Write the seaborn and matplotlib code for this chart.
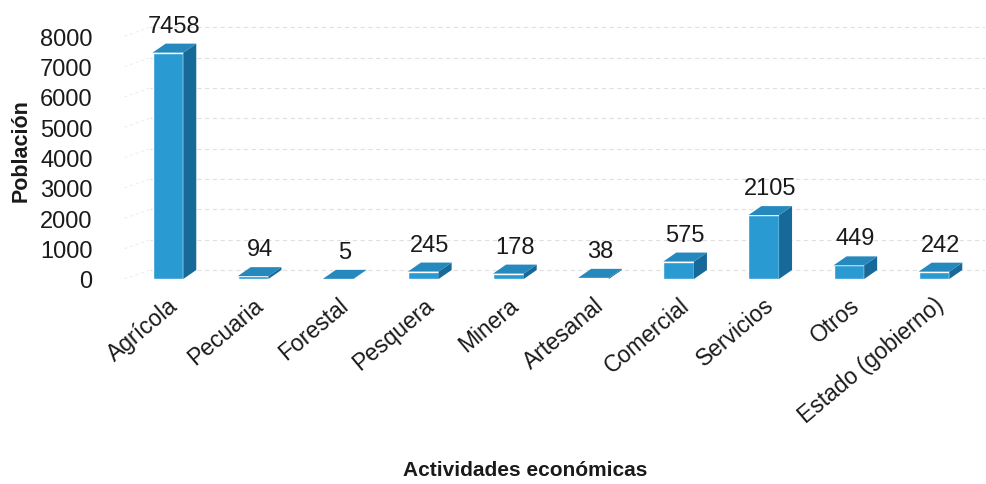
import matplotlib
matplotlib.use("Agg")
import matplotlib.pyplot as plt
from matplotlib.patches import Polygon
import seaborn as sns
import pandas as pd

categorias = ["Agrícola", "Pecuaria", "Forestal", "Pesquera", "Minera",
              "Artesanal", "Comercial", "Servicios", "Otros", "Estado (gobierno)"]
poblacion = [7458, 94, 5, 245, 178, 38, 575, 2105, 449, 242]
yticks = [0, 1000, 2000, 3000, 4000, 5000, 6000, 7000, 8000]

df = pd.DataFrame({"actividad": categorias, "poblacion": poblacion})

sns.set_theme(style="white")
plt.rcParams["font.family"] = ["Liberation Sans", "DejaVu Sans"]

W, H = 986, 485
fig = plt.figure(figsize=(W / 100, H / 100), dpi=100)
ax = fig.add_axes([0.122, 1 - 280 / H, 0.877, (280 - 22) / H])

front = "#2A9AD2"
side = "#17699A"
top = "#2689BE"
ink = "#1a1a1a"

bar_w = 0.36
sns.barplot(data=df, x="actividad", y="poblacion", color=front,
            width=bar_w, saturation=1, ax=ax, zorder=3)

xlim = (-0.56, 9.6)
ylim = (0, 8500)
ax.set_xlim(*xlim)
ax.set_ylim(*ylim)

# depth of the pseudo-3D bars, expressed in pixels then converted to data units
ax_w_px = 0.877 * W
ax_h_px = (280 - 22)
dx = 13 * (xlim[1] - xlim[0]) / ax_w_px
dy = 9 * (ylim[1] - ylim[0]) / ax_h_px

# faint back-wall gridlines
for t in yticks:
    ax.plot([xlim[0] + 0.35, xlim[1]], [t + dy, t + dy], color="#cccccc",
            lw=0.8, ls=(0, (4, 3)), zorder=1, alpha=0.6)
    ax.plot([xlim[0] + 0.05, xlim[0] + 0.35], [t, t + dy], color="#d8d8d8",
            lw=0.7, ls=(0, (3, 3)), zorder=1, alpha=0.5)

for patch, v in zip(ax.patches, poblacion):
    x0 = patch.get_x()
    w = patch.get_width()
    x1 = x0 + w
    ax.add_patch(Polygon([(x1, 0), (x1, v), (x1 + dx, v + dy), (x1 + dx, dy)],
                         closed=True, facecolor=side, edgecolor="none", zorder=3))
    ax.add_patch(Polygon([(x0, v), (x1, v), (x1 + dx, v + dy), (x0 + dx, v + dy)],
                         closed=True, facecolor=top, edgecolor="none", zorder=3))
    ax.annotate(f"{v}", xy=(x0 + w / 2 + dx / 2, v + dy), xytext=(0, 5),
                textcoords="offset points", ha="center", va="bottom",
                fontsize=17, color=ink, zorder=4)

ax.set_yticks(yticks)
ax.set_yticklabels([str(t) for t in yticks], fontsize=17, color=ink)
ax.set_xticks(range(len(categorias)))
ax.set_xticklabels(categorias, rotation=40, ha="right", rotation_mode="anchor",
                   fontsize=16.5, color=ink)
ax.tick_params(axis="x", pad=10, length=0)
ax.tick_params(axis="y", pad=20, length=0)

ax.set_xlabel("Actividades económicas", fontsize=15, fontweight="bold",
              color=ink)
ax.xaxis.set_label_coords(0.468, -0.70)
ax.set_ylabel("Población", fontsize=15.5, fontweight="bold", color=ink)
ax.yaxis.set_label_coords(-0.103, 0.5)

for s in ax.spines.values():
    s.set_visible(False)

fig.savefig("out.png", dpi=100, facecolor="white")
